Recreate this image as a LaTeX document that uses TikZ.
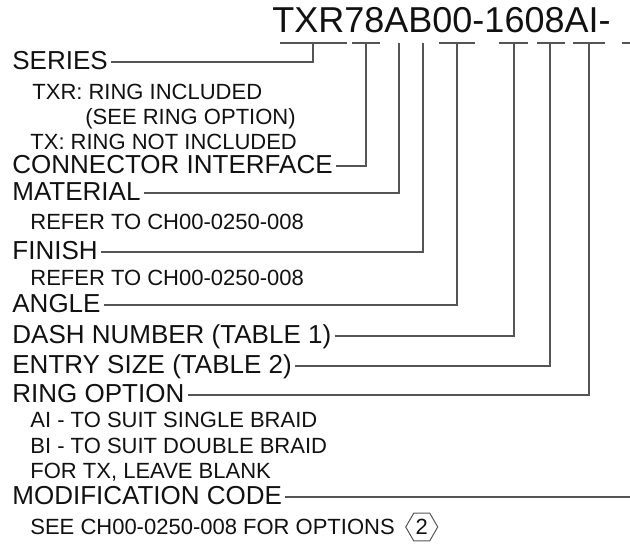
\documentclass[tikz,border=0pt]{standalone}
\usepackage{fontspec}
\setmainfont{Liberation Sans}
\usetikzlibrary{positioning,shapes.geometric}
\definecolor{ink}{HTML}{111111}
\definecolor{leadgray}{HTML}{555555}
\tikzset{
  lead/.style={draw=leadgray, line width=0.75pt},
}
\begin{document}
\begin{tikzpicture}[x=0.5pt,y=-0.5pt,
  code/.style={inner sep=0pt, anchor=base west, font=\fontsize{18pt}{18pt}\selectfont, text=ink},
  head/.style={anchor=west, inner xsep=1.5pt, inner ysep=0pt, text height=0.72em, text depth=0pt, font=\fontsize{13pt}{13pt}\selectfont, text=ink},
  sub/.style={anchor=west, inner sep=0pt, text height=0.72em, text depth=0pt, font=\fontsize{11pt}{11pt}\selectfont, text=ink},
  hexa/.style={regular polygon, regular polygon sides=6, draw=leadgray, line width=0.5pt, inner sep=0pt, minimum size=16pt, font=\fontsize{11pt}{11pt}\selectfont, text=ink}]
\useasboundingbox (0,0) rectangle (630,544);
% part number
\node[code] (pn) at (272,33) {TXR78AB00-1608AI-};
% slots under the part number
\foreach \n/\m/\a/\b in {1/313/280/347, 2/366/352/380, 5/457/439/475, 6/514/499/528, 7/550/537/565, 8/589/573/605}{
  \coordinate (s\n) at (\m,43);
  \draw[lead] (\a,43) -- (\b,43);
}
\coordinate (s3) at (399,43);
\coordinate (s4) at (423,43);
\draw[lead] (622,43) -- (630,43);
\coordinate (edge) at (630,43);
% fields
\node[head] (ser) at (9,62) {SERIES};
\node[sub] (txr) at (32,92) {TXR: RING INCLUDED};
\node[sub] (see) at (85,117) {(SEE RING OPTION)};
\node[sub] (tx) at (30,142) {TX: RING NOT INCLUDED};
\node[head] (conn) at (9,166) {CONNECTOR INTERFACE};
\node[head] (mat) at (9,193) {MATERIAL};
\node[sub] (matref) at (30,222) {REFER TO CH00-0250-008};
\node[head] (fin) at (9,252) {FINISH};
\node[sub] (finref) at (30,278) {REFER TO CH00-0250-008};
\node[head] (ang) at (9,305) {ANGLE};
\node[head] (dash) at (9,336) {DASH NUMBER (TABLE 1)};
\node[head] (entry) at (9,366) {ENTRY SIZE (TABLE 2)};
\node[head] (ring) at (9,395) {RING OPTION};
\node[sub] (ai) at (30,420) {AI - TO SUIT SINGLE BRAID};
\node[sub] (bi) at (30,446) {BI - TO SUIT DOUBLE BRAID};
\node[sub] (blank) at (30,471) {FOR TX, LEAVE BLANK};
\node[head] (mod) at (9,497) {MODIFICATION CODE};
\node[sub] (modref) at (30,527) {SEE CH00-0250-008 FOR OPTIONS};
\node[hexa, right=5pt of modref] (note) {2};
% leaders
\draw[lead] (ser.east) -| (s1);
\draw[lead] (conn.east) -| (s2);
\draw[lead] (mat.east) -| (s3);
\draw[lead] (fin.east) -| (s4);
\draw[lead] (ang.east) -| (s5);
\draw[lead] (dash.east) -| (s6);
\draw[lead] (entry.east) -| (s7);
\draw[lead] (ring.east) -| (s8);
\draw[lead] (mod.east) -- (mod.east -| edge);
\end{tikzpicture}
\end{document}
